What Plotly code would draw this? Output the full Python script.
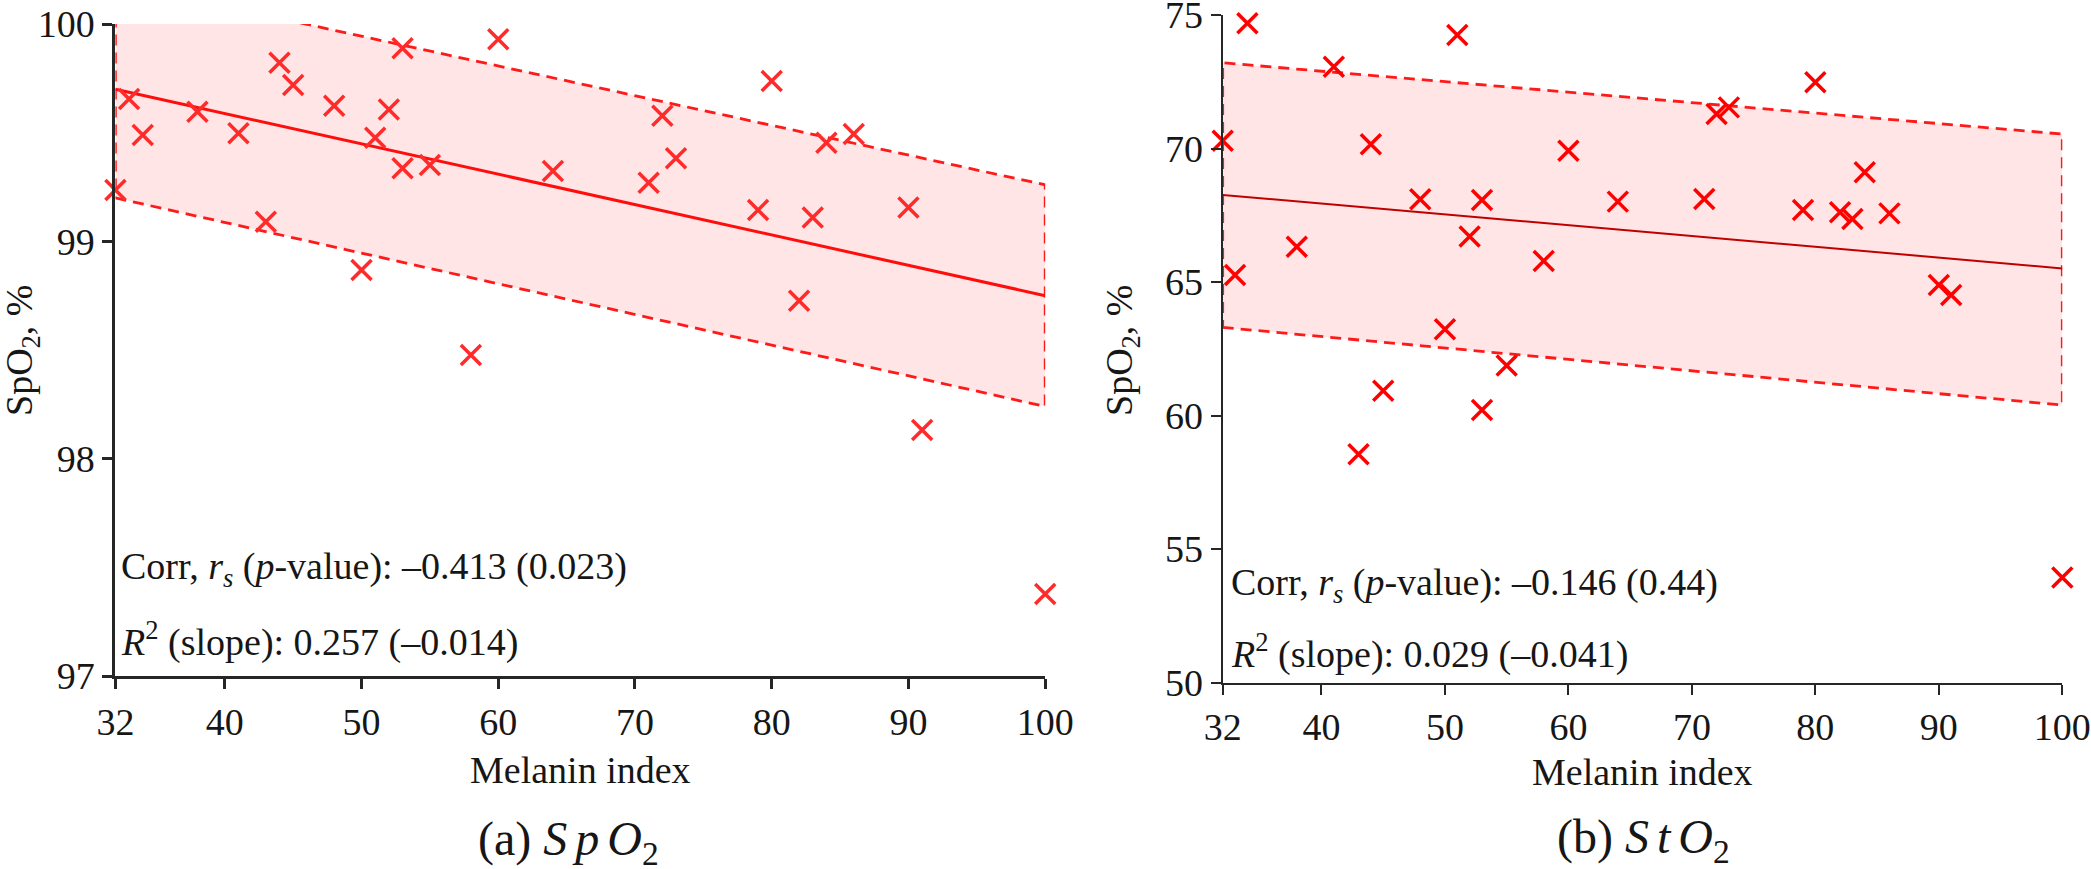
import plotly.graph_objects as go

W, H = 2091, 869

# ---------------- data ----------------
melanin = [32, 33, 34, 38, 41, 43, 44, 45, 48, 50, 51, 52, 53, 53, 55,
           58, 60, 64, 71, 72, 73, 79, 80, 82, 83, 84, 86, 90, 91, 100]
spo2 = [99.236, 99.655, 99.489, 99.596, 99.497, 99.09, 99.822, 99.719, 99.624, 98.868,
        99.477, 99.607, 99.888, 99.336, 99.351, 98.477, 99.93, 99.324, 99.27, 99.578,
        99.382, 99.144, 99.738, 98.727, 99.11, 99.454, 99.494, 99.156, 98.132, 97.377]
sto2 = [70.29, 65.26, 74.69, 66.32, 73.06, 58.55, 70.16, 60.93, 68.1, 63.23,
        74.25, 66.70, 68.07, 60.21, 61.87, 65.79, 69.92, 68.01, 68.11, 71.29,
        71.54, 67.70, 72.48, 67.61, 67.36, 69.11, 67.57, 64.89, 64.51, 53.93]

fit_x = [32, 100]
spo2_fit = [99.70, 98.75]
spo2_upper = [100.19, 99.26]
spo2_lower = [99.20, 98.24]
sto2_fit = [68.26, 65.51]
sto2_upper = [73.21, 70.54]
sto2_lower = [63.30, 60.39]

x_ticks = [32, 40, 50, 60, 70, 80, 90, 100]
spo2_ticks = [97, 98, 99, 100]
sto2_ticks = [50, 55, 60, 65, 70, 75]

stats_a = ["Corr, <i>r</i><sub><i>s</i></sub> (<i>p</i>-value): \u20130.413 (0.023)",
           "<i>R</i><sup>2</sup> (slope): 0.257 (\u20130.014)"]
stats_b = ["Corr, <i>r</i><sub><i>s</i></sub> (<i>p</i>-value): \u20130.146 (0.44)",
           "<i>R</i><sup>2</sup> (slope): 0.029 (\u20130.041)"]

FONT = "Liberation Serif"
AX = "#262626"
TXT = "#161616"
FS = 38


def px(x):
    return x / W


def py(y):
    return 1 - y / H


fig = go.Figure()


def add_panel(xa, ya, yvals, fit, up, lo, mcolor, fcolor, fwidth):
    bx = fit_x + fit_x[::-1] + [fit_x[0]]
    by = lo + up[::-1] + [lo[0]]
    fig.add_trace(go.Scatter(x=bx, y=by, mode="lines", fill="toself",
                             fillcolor="rgba(255,0,0,0.10)",
                             line=dict(color="#ff1a1a", width=2.8, dash="11px,7px"),
                             xaxis=xa, yaxis=ya, hoverinfo="skip"))
    fig.add_trace(go.Scatter(x=fit_x, y=fit, mode="lines",
                             line=dict(color=fcolor, width=fwidth),
                             xaxis=xa, yaxis=ya))
    fig.add_trace(go.Scatter(x=melanin, y=yvals, mode="markers", cliponaxis=False,
                             marker=dict(symbol="x-thin", size=20,
                                         line=dict(color=mcolor, width=3.5)),
                             xaxis=xa, yaxis=ya))


add_panel("x", "y", spo2, spo2_fit, spo2_upper, spo2_lower, "#ff2a2a", "#ff0d0d", 3)
add_panel("x2", "y2", sto2, sto2_fit, sto2_upper, sto2_lower, "#ff0000", "#c00000", 2)

axcommon = dict(showline=True, linecolor=AX, ticks="outside", ticklen=10,
                tickcolor=AX, showgrid=False, zeroline=False, automargin=False,
                ticklabeloverflow="allow",
                tickfont=dict(family=FONT, size=FS, color=TXT))

fig.update_layout(
    width=W, height=H, margin=dict(l=0, r=0, t=0, b=0, pad=0),
    paper_bgcolor="white", plot_bgcolor="white", showlegend=False,
    xaxis=dict(domain=[px(115.4), px(1045.2)], range=[32, 100], tickvals=x_ticks,
               anchor="y", linewidth=3, tickwidth=3, **axcommon),
    yaxis=dict(domain=[py(676), py(24)], range=[97, 100], tickvals=spo2_ticks,
               anchor="x", linewidth=3, tickwidth=3, **axcommon),
    xaxis2=dict(domain=[px(1222.7), px(2062.3)], range=[32, 100], tickvals=x_ticks,
                anchor="y2", linewidth=2.2, tickwidth=2.2, **axcommon),
    yaxis2=dict(domain=[py(682.5), py(15)], range=[50, 75], tickvals=sto2_ticks,
                anchor="x2", linewidth=2.2, tickwidth=2.2, **axcommon),
)

anns = []


def ann(text, x, y, size=FS, xanchor="center", yanchor="middle", angle=0):
    anns.append(dict(text=text, x=px(x), y=py(y), xref="paper", yref="paper",
                     showarrow=False, xanchor=xanchor, yanchor=yanchor,
                     textangle=angle, borderpad=0,
                     font=dict(family=FONT, size=size, color=TXT)))


# stats text
ann(stats_a[0], 120, 569, xanchor="left")
ann(stats_a[1], 120, 639, xanchor="left")
ann(stats_b[0], 1230, 585, xanchor="left")
ann(stats_b[1], 1230, 651, xanchor="left")

# axis titles
ann("Melanin index", 580, 770)
ann("Melanin index", 1642, 772)
ann("SpO<sub>2</sub>, %", 22, 350, angle=-90)
ann("SpO<sub>2</sub>, %", 1122, 350, angle=-90)

# captions
ann("(a) <i>S\u2006p\u2006O</i><sub>2</sub>", 568, 842, size=48)
ann("(b) <i>S\u2006t\u2006O</i><sub>2</sub>", 1643, 840, size=48)

fig.update_layout(annotations=anns)
fig.write_html("out.html")
